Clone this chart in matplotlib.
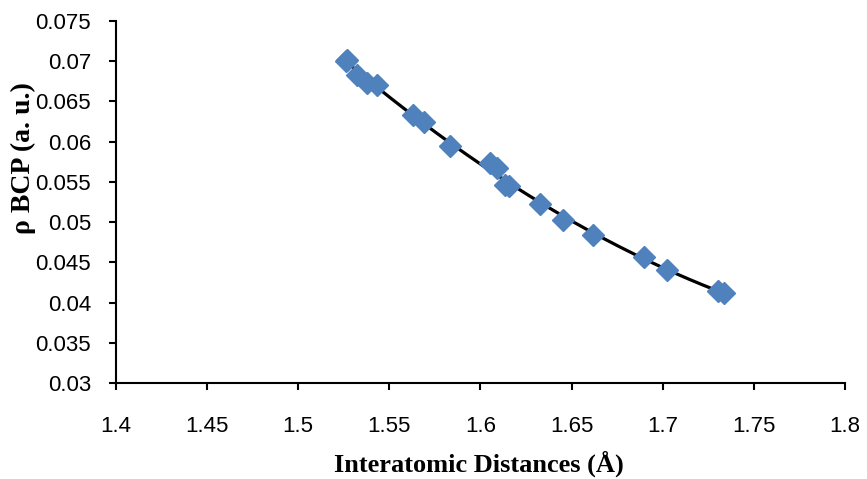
import numpy as np
import matplotlib
matplotlib.use('Agg')
import matplotlib.pyplot as plt

# data
dist = [1.5262, 1.5270, 1.5324, 1.5376, 1.5434, 1.5631, 1.5690, 1.5833, 1.6052, 1.6092,
        1.6134, 1.6158, 1.6326, 1.6454, 1.6619, 1.6897, 1.7025, 1.7305, 1.7335]
rho = [0.0700, 0.0702, 0.0683, 0.0673, 0.0670, 0.0633, 0.0625, 0.0594, 0.0574, 0.0567,
       0.0546, 0.0545, 0.0523, 0.0503, 0.0484, 0.0457, 0.0441, 0.0414, 0.0412]

xticks = [1.4, 1.45, 1.5, 1.55, 1.6, 1.65, 1.7, 1.75, 1.8]
yticks = [0.03, 0.035, 0.04, 0.045, 0.05, 0.055, 0.06, 0.065, 0.07, 0.075]

# polynomial trend line (order 2)
coef = np.polyfit(dist, rho, 2)
xf = np.linspace(min(dist), max(dist), 200)
yf = np.polyval(coef, xf)

fig = plt.figure(figsize=(8.67, 4.79), dpi=100)
ax = fig.add_axes([0.1338, 0.2004, 0.8408, 0.7558])

ax.plot(xf, yf, color='black', lw=2.3, zorder=2)
ax.plot(dist, rho, 'D', color='#4F81BD', ms=11, mec='#4F81BD', zorder=3)

ax.set_xlim(1.4, 1.8)
ax.set_ylim(0.03, 0.075)
ax.set_xticks(xticks)
ax.set_yticks(yticks)
ax.set_xticklabels([f'{t:g}' for t in xticks], family='Liberation Sans', fontsize=16)
ax.set_yticklabels([f'{t:g}' for t in yticks], family='Liberation Sans', fontsize=16)
ax.tick_params(direction='out', length=5, width=1.5)
ax.tick_params(axis='x', pad=19)
ax.tick_params(axis='y', pad=13)

for s in ['top', 'right']:
    ax.spines[s].set_visible(False)
for s in ['left', 'bottom']:
    ax.spines[s].set_linewidth(1.5)

ax.set_xlabel('Interatomic Distances (Å)', family='Liberation Serif', fontweight='bold', fontsize=19)
ax.set_ylabel('ρ BCP (a. u.)', family='Liberation Serif', fontweight='bold', fontsize=20)
ax.xaxis.set_label_coords(0.498, -0.222)
ax.yaxis.set_label_coords(-0.127, 0.62)
ax.xaxis.label.set_va('center')
ax.yaxis.label.set_va('center')

plt.savefig('out.png', dpi=100)
